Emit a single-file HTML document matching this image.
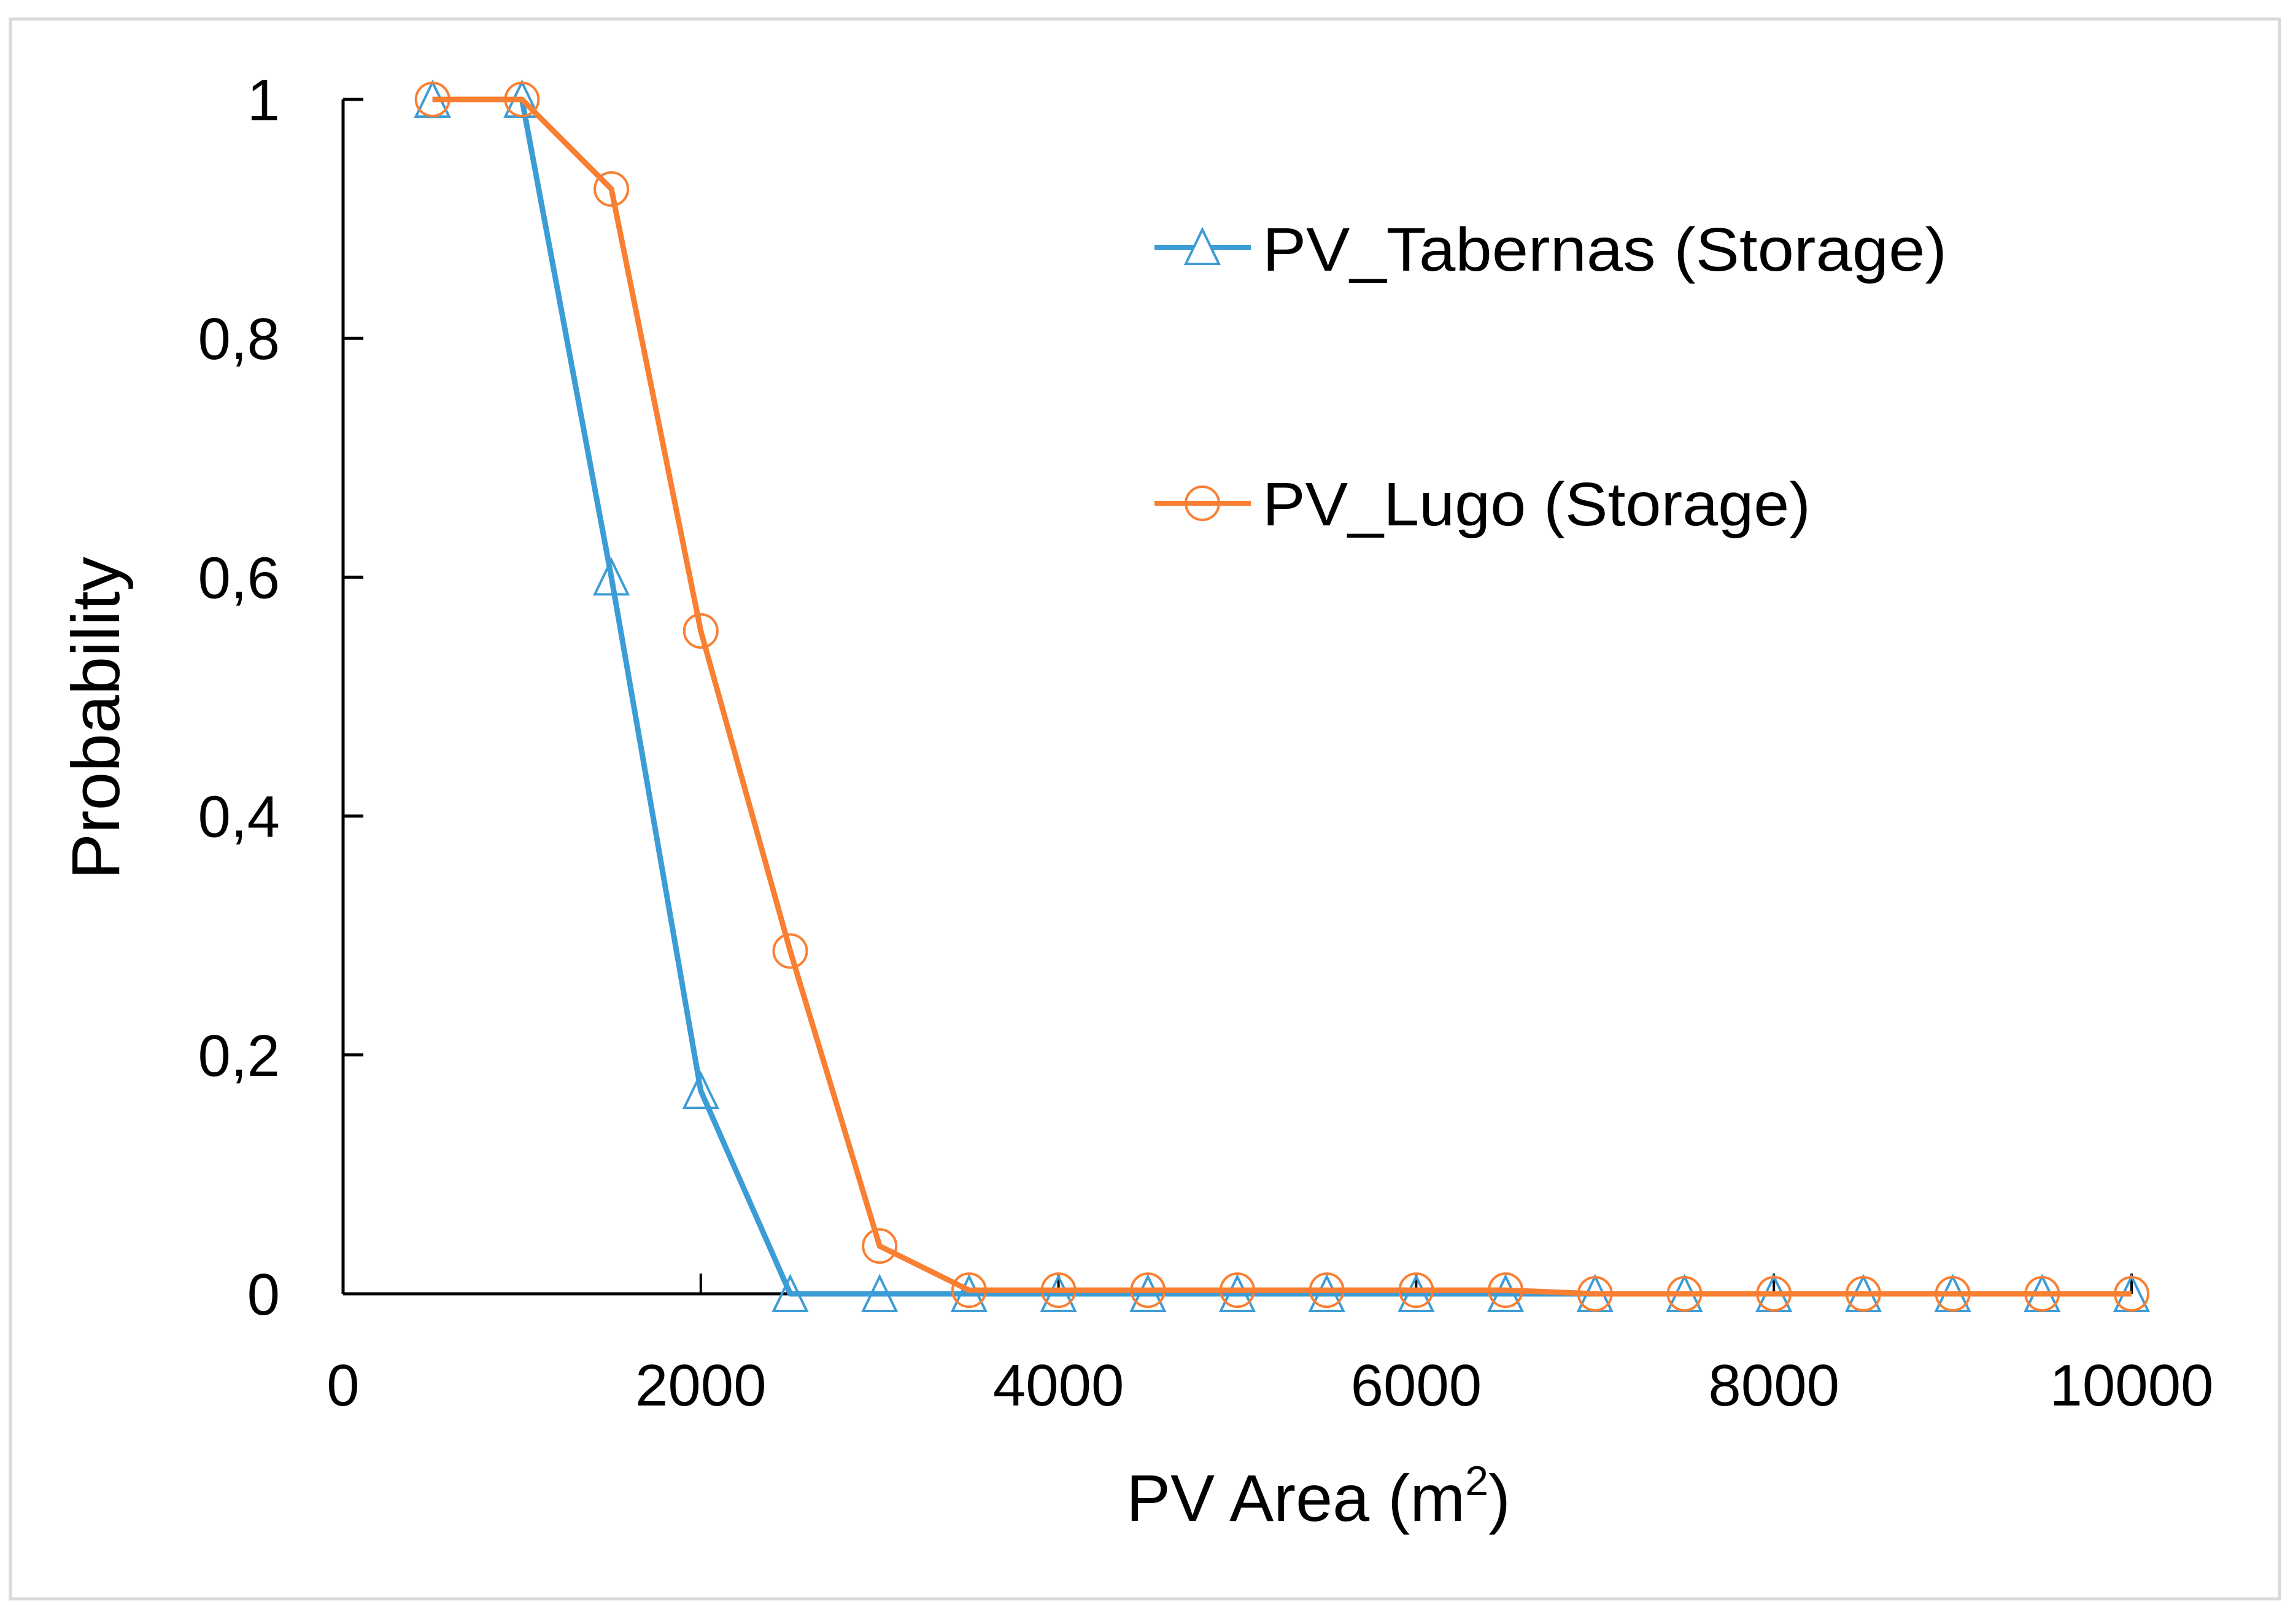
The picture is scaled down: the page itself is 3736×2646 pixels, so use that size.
<!DOCTYPE html>
<html><head><meta charset="utf-8"><style>
html,body{margin:0;padding:0;background:#fff;}
svg{display:block;}
text{font-family:"Liberation Sans",sans-serif;fill:#000;}
</style></head><body>
<svg id="chart" width="3736" height="2646" viewBox="0 0 3736 2646" xmlns="http://www.w3.org/2000/svg">
<rect x="17" y="31" width="3697" height="2574" fill="#fff" stroke="#d9d9d9" stroke-width="5"/>
<g id="axes"></g>
<g id="series"></g>
<text transform="translate(194,1170) rotate(-90)" text-anchor="middle" font-size="110" textLength="526" lengthAdjust="spacingAndGlyphs">Probability</text>
<text x="2148" y="2478" text-anchor="middle" font-size="108">PV Area (m<tspan font-size="68" dy="-42">2</tspan><tspan dy="42">)</tspan></text>
<g>
  <g>
    <line x1="1881" y1="403" x2="2038" y2="403" stroke="#3c9cd6" stroke-width="8"/>
    <polygon points="1959,374 1986,430 1932,430" fill="#fff" stroke="#3c9cd6" stroke-width="4"/>
    <text x="2057" y="441" font-size="100" textLength="1115" lengthAdjust="spacingAndGlyphs">PV_Tabernas (Storage)</text>
  </g>
  <g>
    <line x1="1881" y1="820" x2="2038" y2="820" stroke="#f97f32" stroke-width="8"/>
    <circle cx="1959" cy="820" r="27" fill="none" stroke="#f97f32" stroke-width="4"/>
    <text x="2057" y="856" font-size="100" textLength="893" lengthAdjust="spacingAndGlyphs">PV_Lugo (Storage)</text>
  </g>
</g>
</svg>
<script>
const xValues = [500,1000,1500,2000,2500,3000,3500,4000,4500,5000,5500,6000,6500,7000,7500,8000,8500,9000,9500,10000];
const tabernas = [1,1,0.6,0.17,0,0,0,0,0,0,0,0,0,0,0,0,0,0,0,0];
const lugo = [1,1,0.925,0.555,0.287,0.04,0.003,0.003,0.003,0.003,0.003,0.003,0.003,0,0,0,0,0,0,0];
const xTicks = [0,2000,4000,6000,8000,10000];
const xTickLabels = ["0","2000","4000","6000","8000","10000"];
const yTicks = [0,0.2,0.4,0.6,0.8,1];
const yTickLabels = ["0","0,2","0,4","0,6","0,8","1"];

const NS = "http://www.w3.org/2000/svg";
const X0=559, X1=3473, Y0=2108, Y1=162;
function sx(v){return X0+(v-0)/(10000-0)*(X1-X0);}
function sy(v){return Y0-(v-0)/(1-0)*(Y0-Y1);}
function mk(tag, attrs, parent){const e=document.createElementNS(NS,tag);for(const k in attrs)e.setAttribute(k,attrs[k]);parent.appendChild(e);return e;}
const axes=document.getElementById('axes');
const series=document.getElementById('series');

let ya=mk('line',{x1:X0,y1:Y1,x2:X0,y2:Y0,stroke:'#000','stroke-width':5},axes);


let xa=mk('line',{x1:X0,y1:Y0,x2:X1,y2:Y0,stroke:'#000','stroke-width':5},axes);



yTicks.forEach((t,i)=>{
  let tk=mk('line',{x1:X0,y1:sy(t),x2:X0+33,y2:sy(t),stroke:'#000','stroke-width':5},axes);
  
  
  let lb=mk('text',{x:456,y:sy(t)+34,'text-anchor':'end','font-size':96},axes);
  lb.textContent=yTickLabels[i];
  
  
});
xTicks.forEach((t,i)=>{
  let tk=mk('line',{x1:sx(t),y1:Y0,x2:sx(t),y2:Y0-33,stroke:'#000','stroke-width':4},axes);
  
  
  let lb=mk('text',{x:sx(t),y:2290,'text-anchor':'middle','font-size':96},axes);
  lb.textContent=xTickLabels[i];
  
  
});

function drawSeries(vals,color,name,marker){
  const g=mk('g',{},series);
  
  
  const pts=vals.map((v,i)=>sx(xValues[i])+','+sy(v)).join(' ');
  let pl=mk('polyline',{points:pts,fill:'none',stroke:color,'stroke-width':9,'stroke-linejoin':'round'},g);
  
  
  vals.forEach((v,i)=>{
    const cx=sx(xValues[i]), cy=sy(v);
    let m;
    if(marker==='tri'){
      m=mk('polygon',{points:`${cx},${cy-28} ${cx+27},${cy+28} ${cx-27},${cy+28}`,fill:'none',stroke:color,'stroke-width':4},g);
    } else {
      m=mk('circle',{cx:cx,cy:cy,r:27,fill:'none',stroke:color,'stroke-width':4},g);
    }
    
    
  });
}
drawSeries(tabernas,'#3c9cd6','tabernas','tri');
drawSeries(lugo,'#f97f32','lugo','circ');
</script>
</body></html>
